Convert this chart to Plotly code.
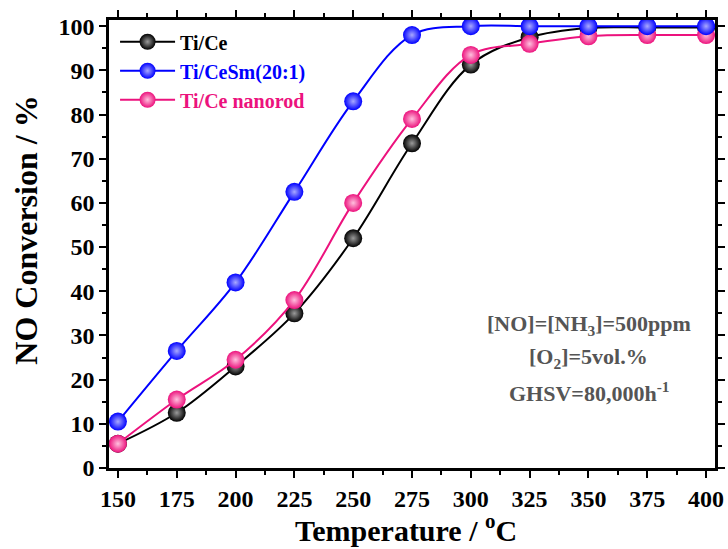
import plotly.graph_objects as go

temps = [150, 175, 200, 225, 250, 275, 300, 325, 350, 375, 400]
ti_ce = [5.5, 12.5, 23.0, 35.0, 52.0, 73.5, 91.3, 97.5, 99.6, 99.7, 99.7]
ti_cesm = [10.5, 26.5, 42.0, 62.5, 83.0, 98.0, 100.0, 100.0, 100.0, 100.0, 100.0]
ti_ce_nanorod = [5.5, 15.5, 24.5, 38.0, 60.0, 79.0, 93.5, 96.0, 97.7, 98.0, 98.0]

x_ticks = [150, 175, 200, 225, 250, 275, 300, 325, 350, 375, 400]
y_ticks = [0, 10, 20, 30, 40, 50, 60, 70, 80, 90, 100]

condition_lines = [
    "[NO]=[NH<sub>3</sub>]=500ppm",
    "[O<sub>2</sub>]=5vol.%",
    "GHSV=80,000h<sup>-1</sup>",
]

FONT = "Liberation Serif"
BLACK = "#000000"
BLUE = "#0000FF"
PINK = "#EC127D"

series = [
    ("Ti/Ce", ti_ce, BLACK, "#9a9a9a", 1),
    ("Ti/Ce nanorod", ti_ce_nanorod, PINK, "#ffc0de", 3),
    ("Ti/CeSm(20:1)", ti_cesm, BLUE, "#a8a8ff", 2),
]

fig = go.Figure()
for name, vals, col, hi, rank in series:
    fig.add_trace(go.Scatter(
        x=temps, y=vals, mode="lines+markers",
        name=f"<b><span style='color:{col}'>{name}</span></b>",
        legendrank=rank,
        line=dict(color=col, width=2, shape="spline", smoothing=1.0),
        marker=dict(size=18, color=col, line=dict(width=0),
                    gradient=dict(type="radial", color=hi)),
    ))

axis_common = dict(
    showline=True, linecolor="black", linewidth=2.5, mirror="ticks",
    ticks="outside", ticklen=7, tickwidth=2, tickcolor="black",
    showgrid=False, zeroline=False, automargin=False,
    tickfont=dict(family=FONT, size=24, color="black"),
)

fig.update_xaxes(
    range=[146.2, 403.8], tickvals=x_ticks,
    ticktext=[f"<b>{t}</b>" for t in x_ticks],
    minor=dict(ticks="outside", ticklen=4, tickwidth=2, tickcolor="black", dtick=12.5, tick0=150),
    **axis_common,
)
fig.update_yaxes(
    range=[0, 101.4], tickvals=y_ticks,
    ticktext=[f"<b>{t}</b>" for t in y_ticks],
    minor=dict(ticks="outside", ticklen=4, tickwidth=2, tickcolor="black", dtick=5, tick0=0),
    **axis_common,
)

# axis titles
fig.add_annotation(
    x=0.49, y=-0.134, xref="paper", yref="paper", xanchor="center", yanchor="middle",
    showarrow=False, text="<b>Temperature / <sup>o</sup>C</b>",
    font=dict(family=FONT, size=30, color="black"),
)
fig.add_annotation(
    x=-0.136, y=0.531, xref="paper", yref="paper", xanchor="center", yanchor="middle",
    showarrow=False, textangle=-90, text="<b>NO Conversion / %</b>",
    font=dict(family=FONT, size=32, color="black"),
)

# condition text
cond_y = [0.319, 0.245, 0.170]
for txt, yy in zip(condition_lines, cond_y):
    fig.add_annotation(
        x=0.792, y=yy, xref="paper", yref="paper", xanchor="center", yanchor="middle",
        showarrow=False, text=f"<b>{txt}</b>",
        font=dict(family=FONT, size=22, color="#555555"),
    )

fig.update_layout(
    width=728, height=549,
    margin=dict(l=109, r=13, t=20, b=81),
    paper_bgcolor="white", plot_bgcolor="white",
    font=dict(family=FONT, size=20, color="black"),
    showlegend=True,
    legend=dict(x=0.01, y=0.995, xanchor="left", yanchor="top",
                bgcolor="rgba(0,0,0,0)", font=dict(family=FONT, size=20),
                itemwidth=55, tracegroupgap=0),
)

fig.write_html("out.html", config={"displayModeBar": False},
               post_script="document.body.style.margin='0';document.body.style.overflow='hidden';")
